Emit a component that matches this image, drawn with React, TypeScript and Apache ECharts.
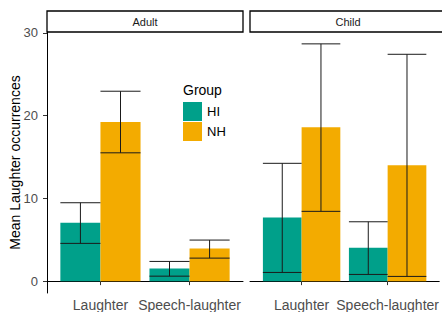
import React, { useEffect, useRef } from "react";
import * as echarts from "echarts";

const categories = ["Laughter", "Speech-laughter"];
const panels = ["Adult", "Child"];
const groups = ["HI", "NH"];
const yTicks = [0, 10, 20, 30];

// Adult panel
const adultHIMean = [7.05, 1.53];
const adultHILower = [4.56, 0.6];
const adultHIUpper = [9.47, 2.38];
const adultNHMean = [19.23, 3.95];
const adultNHLower = [15.5, 2.78];
const adultNHUpper = [22.94, 4.96];
// Child panel
const childHIMean = [7.7, 4.03];
const childHILower = [1.05, 0.81];
const childHIUpper = [14.23, 7.17];
const childNHMean = [18.58, 13.99];
const childNHLower = [8.43, 0.57];
const childNHUpper = [28.66, 27.4];

const colors: Record<string, string> = { HI: "#00a08a", NH: "#f3ab00" };
const FONT = "Liberation Sans, Arial, sans-serif";

export default function App() {
  const ref = useRef<HTMLDivElement>(null);
  useEffect(() => {
    if (!ref.current) return;
    const chart = echarts.init(ref.current, undefined, { renderer: "svg" });

    const allVals = [
      ...adultHIUpper, ...adultNHUpper, ...childHIUpper, ...childNHUpper,
      ...adultHILower, ...adultNHLower, ...childHILower, ...childNHLower, 0,
    ];
    const dMax = Math.max(...allVals);
    const dMin = Math.min(...allVals);
    const pad = (dMax - dMin) * 0.05;
    const yMin = dMin - pad;
    const yMax = dMax + pad;

    const panelData: Record<string, Record<string, number[][]>> = {
      Adult: {
        HI: [adultHIMean, adultHILower, adultHIUpper],
        NH: [adultNHMean, adultNHLower, adultNHUpper],
      },
      Child: {
        HI: [childHIMean, childHILower, childHIUpper],
        NH: [childNHMean, childNHLower, childNHUpper],
      },
    };

    const grids = [
      { left: 47, top: 32, width: 196, height: 261 },
      { left: 250, top: 32, width: 196, height: 261 },
    ];

    const xAxes = panels.map((_, i) => ({
      type: "value",
      gridIndex: i,
      min: 0.4,
      max: 2.6,
      splitLine: { show: false },
      axisLine: { show: true, lineStyle: { color: "#000", width: 1 } },
      axisTick: {
        show: true,
        customValues: [1, 2],
        length: 4,
        lineStyle: { color: "#333" },
      },
      axisLabel: {
        customValues: [1, 2],
        formatter: (v: number) => categories[Math.round(v) - 1] ?? "",
        color: "#4d4d4d",
        fontSize: 14,
        fontFamily: FONT,
        margin: 5,
      },
    }));

    const yAxes = panels.map((_, i) => ({
      type: "value",
      gridIndex: i,
      min: yMin,
      max: yMax,
      show: i === 0,
      splitLine: { show: false },
      axisLine: { show: true, onZero: false, lineStyle: { color: "#000", width: 1 } },
      axisTick: {
        show: true,
        customValues: yTicks,
        length: 4,
        lineStyle: { color: "#333" },
      },
      axisLabel: {
        customValues: yTicks,
        color: "#4d4d4d",
        fontSize: 13,
        fontFamily: FONT,
        margin: 9,
      },
    }));

    const series: any[] = [];
    panels.forEach((panel, pi) => {
      groups.forEach((g, gi) => {
        const [mean, lower, upper] = panelData[panel][g];
        const off0 = gi === 0 ? -0.45 : 0;
        const off1 = gi === 0 ? 0 : 0.45;
        const data = categories.map((_, ci) => [ci + 1, mean[ci], lower[ci], upper[ci]]);
        series.push({
          type: "custom",
          name: g,
          xAxisIndex: pi,
          yAxisIndex: pi,
          z: 2,
          itemStyle: { color: colors[g] },
          data,
          renderItem: (params: any, api: any) => {
            const x = api.value(0);
            const m = api.value(1);
            const a = api.coord([x + off0, m]);
            const b = api.coord([x + off1, 0]);
            return {
              type: "rect",
              shape: { x: a[0], y: a[1], width: b[0] - a[0], height: b[1] - a[1] },
              style: { fill: colors[g] },
            };
          },
        });
        series.push({
          type: "custom",
          name: g + "-err",
          xAxisIndex: pi,
          yAxisIndex: pi,
          z: 3,
          data,
          renderItem: (params: any, api: any) => {
            const x = api.value(0);
            const lo = api.value(2);
            const hi = api.value(3);
            const xc = x + (off0 + off1) / 2;
            const top = api.coord([xc, hi]);
            const bot = api.coord([xc, lo]);
            const l = api.coord([x + off0, hi])[0];
            const r = api.coord([x + off1, hi])[0];
            const st = { stroke: "#1a1a1a", lineWidth: 1, fill: null };
            return {
              type: "group",
              children: [
                { type: "line", shape: { x1: top[0], y1: top[1], x2: bot[0], y2: bot[1] }, style: st },
                { type: "line", shape: { x1: l, y1: top[1], x2: r, y2: top[1] }, style: st },
                { type: "line", shape: { x1: l, y1: bot[1], x2: r, y2: bot[1] }, style: st },
              ],
            };
          },
        });
      });
    });

    const strips = panels.map((p, i) => ({
      type: "group",
      children: [
        {
          type: "rect",
          shape: { x: grids[i].left, y: 11, width: grids[i].width, height: 21 },
          style: { fill: "#fff", stroke: "#000", lineWidth: 1.3 },
        },
        {
          type: "text",
          x: grids[i].left + grids[i].width / 2,
          y: 21.5,
          style: {
            text: p,
            fill: "#1a1a1a",
            fontSize: 11,
            fontFamily: FONT,
            align: "center",
            verticalAlign: "middle",
          },
        },
      ],
    }));

    chart.setOption({
      animation: false,
      backgroundColor: "#fff",
      grid: grids,
      xAxis: xAxes,
      yAxis: yAxes,
      series,
      legend: {
        data: groups.map((g) => ({ name: g, icon: "rect" })),
        orient: "vertical",
        left: 183,
        top: 102,
        itemWidth: 19,
        itemHeight: 19,
        itemGap: 1,
        padding: 0,
        textStyle: { fontSize: 13, color: "#000", fontFamily: FONT },
      },
      graphic: [
        ...strips,
        {
          type: "text",
          x: 183,
          y: 90,
          style: {
            text: "Group",
            fill: "#000",
            fontSize: 14,
            fontFamily: FONT,
            align: "left",
            verticalAlign: "middle",
          },
        },
        {
          type: "text",
          x: 15,
          y: 162.5,
          rotation: Math.PI / 2,
          style: {
            text: "Mean Laughter occurrences",
            fill: "#000",
            fontSize: 14,
            fontFamily: FONT,
            align: "center",
            verticalAlign: "middle",
          },
        },
      ],
    });
    return () => chart.dispose();
  }, []);
  return (
    <div
      ref={ref}
      style={{ position: "absolute", left: 0, top: 0, width: 442, height: 312 }}
    />
  );
}
